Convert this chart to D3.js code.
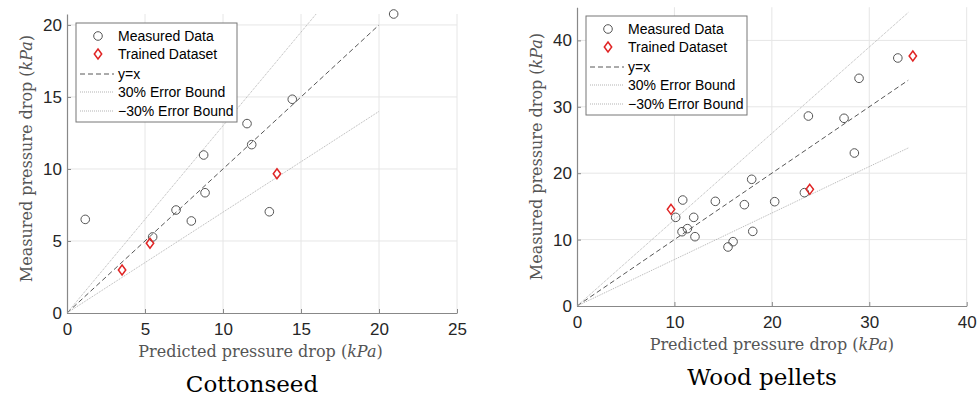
<!DOCTYPE html>
<html>
<head>
<meta charset="utf-8">
<script src="https://cdn.jsdelivr.net/npm/d3@7"></script>
<style>
  html, body { margin: 0; padding: 0; background: #fff; }
  svg { display: block; }
</style>
</head>
<body>
<svg id="chart" width="979" height="396"></svg>
<script>
// Cottonseed: predicted vs measured pressure drop (kPa)
const cottonMeasuredX = [20.94, 14.44, 11.54, 11.84, 8.76, 8.85, 1.17, 6.99, 7.97, 12.97, 5.49];
const cottonMeasuredY = [20.76, 14.84, 13.15, 11.69, 10.97, 8.35, 6.5, 7.15, 6.39, 7.03, 5.28];
const cottonTrainedX = [3.53, 5.32, 13.46];
const cottonTrainedY = [2.99, 4.84, 9.67];

// Wood pellets: predicted vs measured pressure drop (kPa)
const woodMeasuredX = [32.93, 28.95, 23.75, 27.41, 28.47, 17.93, 23.34, 10.13, 10.85, 14.2, 17.18, 20.29, 11.98, 10.78, 11.33, 12.11, 18.04, 15.5, 16.02];
const woodMeasuredY = [37.35, 34.29, 28.61, 28.27, 23.04, 19.08, 17.07, 13.35, 15.96, 15.76, 15.26, 15.71, 13.35, 11.19, 11.65, 10.44, 11.24, 8.89, 9.69];
const woodTrainedX = [9.65, 23.89, 34.47];
const woodTrainedY = [14.56, 17.57, 37.65];

// Reference lines: y = x and the ±30% error bounds
const errorFactors = [1, 1.3, 0.7];
const legendLabels = ["Measured Data", "Trained Dataset", "y=x", "30% Error Bound", "\u221230% Error Bound"];

const cottonXTicks = [0, 5, 10, 15, 20, 25];
const cottonYTicks = [0, 5, 10, 15, 20];
const woodXTicks = [0, 10, 20, 30, 40];
const woodYTicks = [0, 10, 20, 30, 40];

const svg = d3.select("#chart");
const sansFont = "'Liberation Sans', Arial, Helvetica, sans-serif";
const serifFont = "'DejaVu Serif', 'Liberation Serif', serif";

function drawPanel(p) {
  const x = d3.scaleLinear().domain(p.xDomain).range(p.xRange);
  const y = d3.scaleLinear().domain(p.yDomain).range(p.yRange);
  const g = svg.append("g");

  const clipId = "clip-" + p.id;
  svg.append("clipPath").attr("id", clipId)
    .append("rect")
    .attr("x", p.xRange[0]).attr("y", p.yRange[1])
    .attr("width", p.xRange[1] - p.xRange[0])
    .attr("height", p.yRange[0] - p.yRange[1]);

  // grid
  const grid = g.append("g").attr("stroke", "#e6e6e6").attr("stroke-width", 1);
  grid.selectAll("line.gx").data(p.xTicks.filter(t => t > 0)).join("line")
    .attr("x1", d => x(d)).attr("x2", d => x(d))
    .attr("y1", p.yRange[0]).attr("y2", p.yRange[1]);
  grid.selectAll("line.gy").data(p.yTicks.filter(t => t > 0)).join("line")
    .attr("y1", d => y(d)).attr("y2", d => y(d))
    .attr("x1", p.xRange[0]).attr("x2", p.xRange[1]);

  // axes (inward ticks, left and bottom only)
  const xAxis = d3.axisBottom(x).tickValues(p.xTicks).tickSizeInner(-4).tickSizeOuter(0).tickPadding(10).tickFormat(d3.format("d"));
  const yAxis = d3.axisLeft(y).tickValues(p.yTicks).tickSizeInner(-4).tickSizeOuter(0).tickPadding(5).tickFormat(d3.format("d"));
  const gx = g.append("g").attr("transform", `translate(0,${p.yRange[0]})`).call(xAxis);
  const gy = g.append("g").attr("transform", `translate(${p.xRange[0]},0)`).call(yAxis);
  [gx, gy].forEach(a => {
    a.select(".domain").attr("stroke", "#888").attr("stroke-width", 1.2);
    a.selectAll(".tick line").attr("stroke", "#888");
    a.selectAll(".tick text").attr("fill", "#262626")
      .style("font-family", sansFont).style("font-size", "17px");
  });

  // reference lines
  const lines = g.append("g").attr("clip-path", `url(#${clipId})`).attr("fill", "none");
  errorFactors.forEach((f, i) => {
    lines.append("line")
      .attr("x1", x(0)).attr("y1", y(0))
      .attr("x2", x(p.lineEnd)).attr("y2", y(p.lineEnd * f))
      .attr("stroke", i === 0 ? "#444" : "#aaa")
      .attr("stroke-width", 0.9)
      .attr("stroke-dasharray", i === 0 ? "5,3" : "1,1");
  });

  // measured points
  const pts = g.append("g");
  pts.selectAll("circle").data(d3.range(p.mx.length)).join("circle")
    .attr("cx", i => x(p.mx[i])).attr("cy", i => y(p.my[i]))
    .attr("r", 4.3).attr("fill", "none").attr("stroke", "#555").attr("stroke-width", 1);

  // trained points
  const diamond = (cx, cy) => `M${cx},${cy - 5} L${cx + 3.7},${cy} L${cx},${cy + 5} L${cx - 3.7},${cy} Z`;
  pts.selectAll("path").data(d3.range(p.tx.length)).join("path")
    .attr("d", i => diamond(x(p.tx[i]), y(p.ty[i])))
    .attr("fill", "none").attr("stroke", "#e02424").attr("stroke-width", 1.5);

  // axis labels
  const xl = g.append("text")
    .attr("x", (p.xRange[0] + p.xRange[1]) / 2 + p.xLabelShift).attr("y", p.xLabelY)
    .attr("text-anchor", "middle").attr("fill", "#555")
    .style("font-family", serifFont).style("font-size", "16px");
  xl.append("tspan").text("Predicted pressure drop (");
  xl.append("tspan").attr("font-style", "italic").text("kPa");
  xl.append("tspan").text(")");

  const yl = g.append("text")
    .attr("transform", `translate(${p.yLabelX},${p.yLabelCY}) rotate(-90)`)
    .attr("text-anchor", "middle").attr("fill", "#555")
    .style("font-family", serifFont).style("font-size", "16px");
  yl.append("tspan").text("Measured pressure drop (");
  yl.append("tspan").attr("font-style", "italic").text("kPa");
  yl.append("tspan").text(")");

  // title
  g.append("text").attr("x", p.titleX).attr("y", p.titleY)
    .attr("text-anchor", "middle").attr("fill", "#000")
    .style("font-family", serifFont)
    .style("font-size", "23px").text(p.title);

  // legend
  const lg = g.append("g").attr("transform", `translate(${p.legend[0]},${p.legend[1]})`);
  lg.append("rect").attr("width", 161).attr("height", 99)
    .attr("fill", "#fff").attr("stroke", "#777").attr("stroke-width", 1);
  const rowY = [13, 31, 51, 69, 88];
  legendLabels.forEach((lab, i) => {
    const ry = rowY[i];
    if (i === 0) {
      lg.append("circle").attr("cx", 22).attr("cy", ry).attr("r", 4.3)
        .attr("fill", "none").attr("stroke", "#555").attr("stroke-width", 1);
    } else if (i === 1) {
      lg.append("path").attr("d", diamond(22, ry))
        .attr("fill", "none").attr("stroke", "#e02424").attr("stroke-width", 1.5);
    } else {
      lg.append("line").attr("x1", 4).attr("x2", 38).attr("y1", ry).attr("y2", ry)
        .attr("stroke", i === 2 ? "#444" : "#aaa").attr("stroke-width", 0.9)
        .attr("stroke-dasharray", i === 2 ? "5,3" : "1,1");
    }
    lg.append("text").attr("x", 42).attr("y", ry).attr("dy", "0.36em")
      .attr("fill", "#000").style("font-family", sansFont).style("font-size", "14px")
      .text(lab);
  });
}

drawPanel({
  id: "cotton", title: "Cottonseed",
  xDomain: [0, 25], yDomain: [0, 20.76], xRange: [67, 457], yRange: [313, 14],
  xTicks: cottonXTicks, yTicks: cottonYTicks, lineEnd: 20,
  mx: cottonMeasuredX, my: cottonMeasuredY, tx: cottonTrainedX, ty: cottonTrainedY,
  xLabelY: 357, xLabelShift: -1.5, yLabelX: 32, yLabelCY: 158.5,
  titleX: 252, titleY: 392, legend: [76, 23]
});

drawPanel({
  id: "wood", title: "Wood pellets",
  xDomain: [0, 40], yDomain: [0, 45], xRange: [577, 966.7], yRange: [306, 7.2],
  xTicks: woodXTicks, yTicks: woodYTicks, lineEnd: 34,
  mx: woodMeasuredX, my: woodMeasuredY, tx: woodTrainedX, ty: woodTrainedY,
  xLabelY: 350, xLabelShift: 0, yLabelX: 542, yLabelCY: 156.5,
  titleX: 762, titleY: 385, legend: [586, 16]
});
</script>
</body>
</html>
